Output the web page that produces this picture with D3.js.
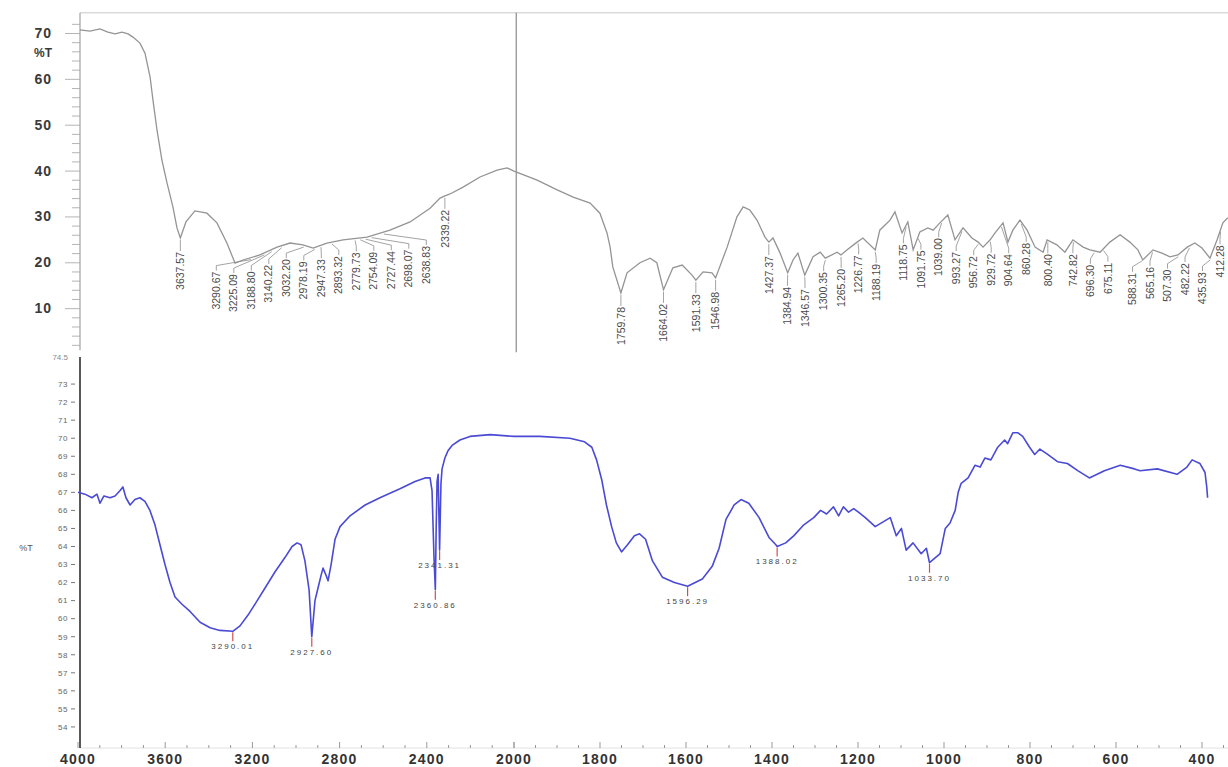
<!DOCTYPE html>
<html><head><meta charset="utf-8">
<script src="https://cdn.jsdelivr.net/npm/d3@7"></script>
<style>body{margin:0;background:#fff}svg{display:block}text{font-family:"Liberation Sans",Arial,sans-serif}</style>
</head><body><svg id="c" width="1228" height="767"></svg>
<script>
// ---------- DATA ----------
const topWavenumber = [4130,4081,4032,3993,3958,3924,3894,3870,3836,3811,3786,3772,3752,3728,3703,3674,3654,3637.57,3610,3566,3507,3458,3409,3369,3330,3247,3163,3099,3036,2986,2918,2839,2721,2609,2510,2412,2363,2339.22,2314,2250,2167,2083,2034,2000,
1948,1903,1867,1829,1807,1791,1784,1778,1759.78,1746,1717,1694,1679,1664.02,1643,1622,1600,1591.33,1575,1555,1546.98,1521,1499,1485,1470,1454,1436,1427.37,1418,1402,1384.94,1373,1362,1346.57,1328,1312,1300.35,1274,1265.2,1252,1229,1216,1188.19,1178,1155,1144,1128,1115,1103,1088,1070,1058,1043,1025,1009,991,971,957,946,930,919,901,890,879,863,847,829,811,802,780,762,744,721,706,683,661,638,616,598,587,564,544,526,508,487,470,454,436,420,407,396];
const topTransmittance = [70.7,70.4,70.9,70.2,69.8,70.2,69.8,69.1,67.8,65.6,60.4,55.4,48.8,42.3,37.3,32.1,27.5,25.3,28.8,31.2,30.7,28.6,24.2,19.8,20.5,21.6,23.3,24.2,23.8,23.1,24.2,24.9,25.5,27.0,28.8,31.8,34.0,34.5,34.9,36.4,38.6,40.1,40.6,39.9,
37.9,35.8,34.2,32.9,30.7,26.4,23.3,19.0,13.3,17.7,19.9,20.9,19.9,14.0,18.8,19.4,17.2,16.1,17.9,17.7,16.6,23.3,29.9,32.1,31.4,29.2,25.5,24.4,25.3,22.0,17.7,20.5,22.0,17.2,21.2,22.2,20.9,22.2,21.6,22.7,24.4,25.3,22.7,27.0,29.2,31.0,26.4,28.8,22.7,26.6,27.5,27.0,28.6,30.3,24.9,27.5,25.3,24.4,23.3,24.9,26.4,28.6,24.4,27.0,29.2,27.0,23.3,22.2,24.9,23.8,22.2,24.9,23.3,22.7,22.2,24.4,26.0,24.4,22.7,20.5,22.7,22.0,21.2,21.6,23.3,24.2,23.1,20.9,24.9,28.6,29.7];
const topPeakLabels = ["3637.57","3290.67","3225.09","3188.80","3140.22","3032.20","2978.19","2947.33","2893.32","2779.73","2754.09","2727.44","2698.07","2638.83","2339.22",
"1759.78","1664.02","1591.33","1546.98","1427.37","1384.94","1346.57","1300.35","1265.20","1226.77","1188.19","1118.75","1091.75","1039.00","993.27","956.72","929.72","904.64","860.28","800.40","742.82","696.30","675.11","588.31","565.16","507.30","482.22","435.93","412.28"];

const botWavenumber = [4000,3968,3936,3913,3899,3881,3853,3830,3807,3794,3780,3761,3739,3716,3693,3670,3647,3624,3601,3578,3555,3523,3486,3440,3394,3349,3290.01,3257,3220,3183,3142,3096,3050,3018,2995,2977,2959,2940,2927.6,2913,2899,2885,2876,2862,2853,2839,2821,2798,2752,2683,2615,2523,2454,2408,2385,2376,2367,2360.86,2357,2353,2348,2341.31,2335,2330,2317,2303,2284,2248,2202,2110,2000,
1940,1870,1836,1819,1808,1796,1785,1773,1762,1750,1736,1720,1708,1694,1678,1655,1627,1596.29,1562,1539,1523,1507,1488,1472,1454,1430,1407,1391,1388.02,1368,1349,1326,1303,1287,1273,1257,1245,1234,1222,1210,1199,1183,1160,1125,1111,1099,1088,1072,1053,1041,1033.7,1009,997,986,974,967,960,944,928,916,905,891,875,859,852,840,828,817,801,789,777,759,736,713,689,662,627,590,557,544,504,458,435,423,405,393,389,387];
const botTransmittance = [67.0,66.9,66.7,66.9,66.4,66.8,66.7,66.8,67.1,67.3,66.7,66.3,66.6,66.7,66.5,66.0,65.2,64.1,63.0,62.0,61.2,60.8,60.4,59.8,59.5,59.35,59.3,59.6,60.2,60.9,61.7,62.6,63.4,64.0,64.2,64.1,63.2,61.6,59.0,61.0,61.7,62.4,62.8,62.4,62.1,63.0,64.4,65.1,65.7,66.3,66.7,67.2,67.6,67.8,67.8,67.1,63.4,61.6,65.0,67.6,68.0,63.8,67.5,68.3,68.9,69.3,69.6,69.9,70.1,70.2,70.1,
70.1,70.0,69.8,69.5,68.8,67.7,66.3,65.1,64.2,63.7,64.1,64.6,64.7,64.4,63.2,62.3,62.0,61.8,62.2,62.9,63.9,65.5,66.3,66.6,66.4,65.6,64.5,64.1,64.0,64.2,64.6,65.2,65.6,66.0,65.8,66.2,65.7,66.2,65.9,66.1,65.9,65.6,65.1,65.6,64.6,65.0,63.8,64.2,63.6,63.9,63.1,63.6,65.0,65.3,66.0,67.0,67.5,67.8,68.5,68.4,68.9,68.8,69.5,69.9,69.7,70.3,70.3,70.1,69.5,69.1,69.4,69.1,68.7,68.6,68.2,67.8,68.2,68.5,68.3,68.2,68.3,68.0,68.4,68.8,68.6,68.1,67.3,66.7];
const botPeakLabels = ["3290.01","2927.60","2360.86","2341.31","1596.29","1388.02","1033.70"];

const topYTicks = [10,20,30,40,50,60,70];
const botYTicks = [54,55,56,57,58,59,60,61,62,63,64,65,66,67,68,69,70,71,72,73];
const botYTopLabel = "74.5";
const xTickLabels = [4000,3600,3200,2800,2400,2000,1800,1600,1400,1200,1000,800,600,400];
const topMarkerWavenumber = 1995;

// ---------- SCALES ----------
const svg = d3.select("#c");
const xTop = d3.scaleLinear().domain([4130,2000,400]).range([80,514,1226]);
const yTop = d3.scaleLinear().domain([0,70]).range([354,33]);
const xBot = d3.scaleLinear().domain([4000,2000,400]).range([78,514,1202]);
const yBot = d3.scaleLinear().domain([53,74.5]).range([745,357]);

const topData = topWavenumber.map((w,i)=>[w,topTransmittance[i]]);
const botData = botWavenumber.map((w,i)=>[w,botTransmittance[i]]);

function interp(data, w){
  for(let i=0;i<data.length-1;i++){
    const a=data[i], b=data[i+1];
    if(w<=a[0] && w>=b[0]){ const t=(a[0]-w)/(a[0]-b[0]); return a[1]+t*(b[1]-a[1]); }
  }
  return data[data.length-1][1];
}

// ---------- TOP PANEL ----------
const gT = svg.append("g");
gT.append("line").attr("x1",80).attr("x2",1228).attr("y1",yTop(74.4)).attr("y2",yTop(74.4)).attr("stroke","#c8c8c8");
const yAxisTop = d3.axisLeft(yTop).tickValues(d3.range(2,74,2)).tickSize(8).tickFormat("");
const ya = gT.append("g").attr("transform","translate(80,0)").call(yAxisTop);
ya.select(".domain").remove();
ya.selectAll(".tick line").attr("stroke","#b5b5b5").attr("x2",d=>d%10===0?-15:-8);
gT.append("line").attr("x1",80).attr("x2",80).attr("y1",yTop(74.4)).attr("y2",yTop(0.8)).attr("stroke","#aaa").attr("stroke-width",1.3);
gT.selectAll("text.ytl").data(topYTicks).join("text").attr("class","ytl")
  .attr("x",52).attr("y",d=>yTop(d)).attr("dy","0.36em").attr("text-anchor","end")
  .attr("font-size",14).attr("font-weight","bold").attr("letter-spacing",1).attr("fill","#3a3a3a").text(d=>d);
gT.append("text").attr("x",52).attr("y",yTop(65.6)).attr("dy","0.36em").attr("text-anchor","end")
  .attr("font-size",12).attr("font-weight","bold").attr("fill","#3a3a3a").text("%T");
gT.append("line").attr("x1",xTop(topMarkerWavenumber)).attr("x2",xTop(topMarkerWavenumber))
  .attr("y1",yTop(74.4)).attr("y2",yTop(0.4)).attr("stroke","#808080").attr("stroke-width",1.1);

const lineTop = d3.line().x(d=>xTop(d[0])).y(d=>yTop(d[1]));
gT.append("path").datum(topData).attr("d",lineTop).attr("fill","none").attr("stroke","#949494").attr("stroke-width",1.3);

const labs = topPeakLabels.map(s=>{const w=+s; return {s,w,ax:xTop(w),ay:yTop(interp(topData,w))};});
labs.sort((a,b)=>a.ax-b.ax);
labs.forEach(l=>l.lx=l.ax);
const gap=17.5;
for(let it=0;it<400;it++){
  for(let i=1;i<labs.length;i++){
    const d=labs[i].lx-labs[i-1].lx;
    if(d<gap){const m=(gap-d)/2; labs[i-1].lx-=m; labs[i].lx+=m;}
  }
  labs.forEach(l=>{l.lx=Math.min(1220,Math.max(l.lx,l.ax-60));});
}
labs.forEach(l=>{
  const ylx=yTop(interp(topData,xTop.invert(l.lx)));
  l.top=Math.max(l.ay,ylx)+14;
});
gT.selectAll("path.lead").data(labs).join("path").attr("class","lead")
  .attr("d",l=>`M${l.ax},${l.ay+2}L${l.lx},${l.top-6}L${l.lx},${l.top-1}`)
  .attr("fill","none").attr("stroke","#8c8c8c").attr("stroke-width",0.8);
gT.selectAll("text.pl").data(labs).join("text").attr("class","pl")
  .attr("transform",l=>`translate(${l.lx},${l.top}) rotate(-90)`)
  .attr("text-anchor","end").attr("dy","0.35em").attr("font-size",10.5).attr("fill","#4a4a4a").text(l=>l.s);

// ---------- BOTTOM PANEL ----------
const gB = svg.append("g");
gB.append("line").attr("x1",80).attr("x2",1228).attr("y1",748).attr("y2",748).attr("stroke","#e2e2e2");
const xMinorLeft = d3.range(4000,1999,-100), xMinorRight = d3.range(2000,349,-50);
gB.selectAll("line.xm").data(xMinorLeft.concat(xMinorRight)).join("line").attr("class","xm")
  .attr("x1",d=>xBot(d)).attr("x2",d=>xBot(d)).attr("y1",748).attr("y2",d=>xTickLabels.includes(d)?742:745)
  .attr("stroke","#999");
gB.selectAll("text.xl").data(xTickLabels).join("text").attr("class","xl")
  .attr("x",d=>xBot(d)).attr("y",764).attr("text-anchor","middle")
  .attr("font-size",14).attr("font-weight","bold").attr("letter-spacing",1.2).attr("fill","#333").text(d=>d);

gB.append("line").attr("x1",80).attr("x2",80).attr("y1",357).attr("y2",748).attr("stroke","#222").attr("stroke-width",1.5);
gB.selectAll("line.yt").data(botYTicks).join("line").attr("class","yt")
  .attr("x1",71).attr("x2",75).attr("y1",d=>yBot(d)).attr("y2",d=>yBot(d)).attr("stroke","#777");
gB.selectAll("text.yl").data(botYTicks).join("text").attr("class","yl")
  .attr("x",68).attr("y",d=>yBot(d)).attr("dy","0.35em").attr("text-anchor","end")
  .attr("font-size",8).attr("letter-spacing",0.6).attr("fill","#666").text(d=>d);
gB.append("text").attr("x",68).attr("y",yBot(74.5)).attr("dy","0.35em").attr("text-anchor","end")
  .attr("font-size",8).attr("fill","#888").text(botYTopLabel);
gB.append("text").attr("x",26).attr("y",yBot(63.9)).attr("dy","0.35em").attr("text-anchor","middle")
  .attr("font-size",9).attr("fill","#555").text("%T");

const lineBot = d3.line().x(d=>xBot(d[0])).y(d=>yBot(d[1]));
gB.append("path").datum(botData).attr("d",lineBot).attr("fill","none").attr("stroke","#4a4ad4").attr("stroke-width",1.6).attr("stroke-linejoin","round");

const bl = botPeakLabels.map(s=>{const w=+s; return {s,x:xBot(w),y:yBot(interp(botData,w))};});
gB.selectAll("line.pk").data(bl).join("line").attr("class","pk")
  .attr("x1",d=>d.x).attr("x2",d=>d.x).attr("y1",d=>d.y+1).attr("y2",d=>d.y+10).attr("stroke","#d05050").attr("stroke-width",1.2);
gB.selectAll("text.pk").data(bl).join("text").attr("class","pk")
  .attr("x",d=>d.x).attr("y",d=>d.y+18).attr("text-anchor","middle")
  .attr("font-size",8).attr("letter-spacing",2).attr("fill","#444").text(d=>d.s);
</script></body></html>
